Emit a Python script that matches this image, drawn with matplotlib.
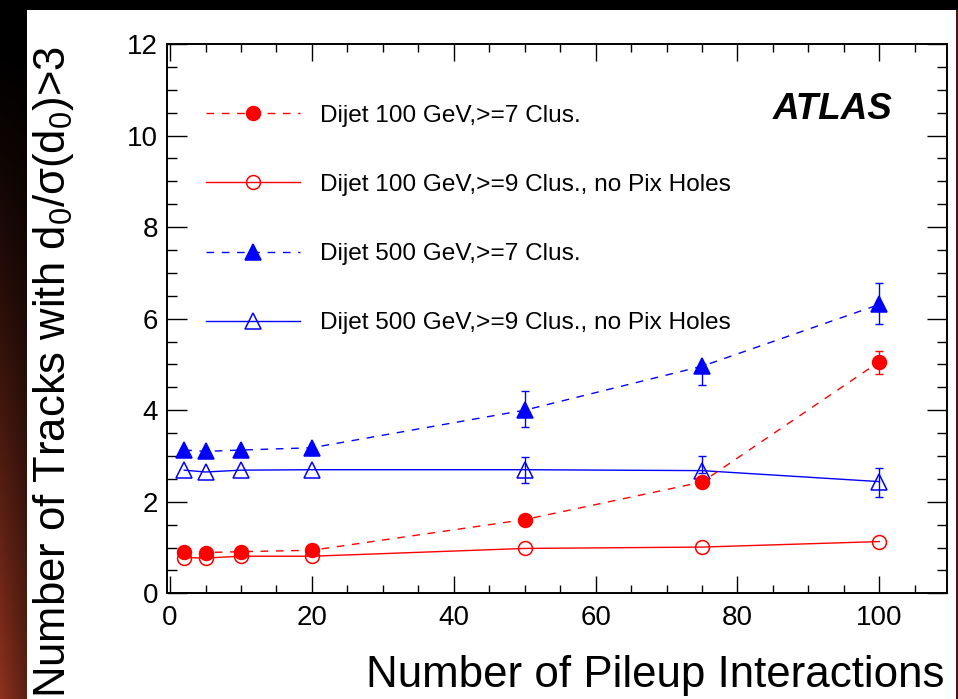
import numpy as np
import matplotlib
matplotlib.use("Agg")
import matplotlib.pyplot as plt
from matplotlib.patches import Rectangle
from matplotlib.ticker import MultipleLocator

plt.rcParams['font.family'] = ['Liberation Sans', 'DejaVu Sans']
plt.rcParams['mathtext.fontset'] = 'custom'
plt.rcParams['mathtext.rm'] = 'Liberation Sans'
plt.rcParams['mathtext.it'] = 'Liberation Sans:italic'
plt.rcParams['mathtext.bf'] = 'Liberation Sans:bold'

# ---------------- data ----------------
pileup = np.array([2, 5, 10, 20, 50, 75, 100])

d100_7 = np.array([0.90, 0.89, 0.91, 0.94, 1.61, 2.43, 5.06])
d100_7_lo = np.array([0, 0, 0, 0, 0, 0.12, 0.27])
d100_7_hi = np.array([0, 0, 0, 0, 0, 0.12, 0.24])

d100_9 = np.array([0.78, 0.77, 0.81, 0.81, 0.98, 1.01, 1.13])
d100_9_lo = np.array([0, 0, 0, 0, 0, 0, 0])
d100_9_hi = np.array([0, 0, 0, 0, 0, 0, 0])

d500_7 = np.array([3.13, 3.10, 3.13, 3.18, 4.00, 4.96, 6.31])
d500_7_lo = np.array([0, 0, 0, 0, 0.37, 0.40, 0.42])
d500_7_hi = np.array([0, 0, 0, 0, 0.41, 0.05, 0.47])

d500_9 = np.array([2.69, 2.65, 2.69, 2.70, 2.70, 2.68, 2.44])
d500_9_lo = np.array([0, 0, 0, 0, 0.30, 0.05, 0.33])
d500_9_hi = np.array([0, 0, 0, 0, 0.28, 0.31, 0.29])

labels = ["Dijet 100 GeV,>=7 Clus.",
          "Dijet 100 GeV,>=9 Clus., no Pix Holes",
          "Dijet 500 GeV,>=7 Clus.",
          "Dijet 500 GeV,>=9 Clus., no Pix Holes"]

xlabel = "Number of Pileup Interactions"
ylabel = "Number of Tracks with d$_{0}$/\u03c3(d$_{0}$)>3"

# ---------------- figure & background ----------------
W, H = 958, 699
fig = plt.figure(figsize=(W / 100, H / 100), dpi=100, facecolor='black')

# white panel
fig.patches.append(Rectangle((27 / W, 0), (956 - 27) / W, (H - 10) / H,
                             transform=fig.transFigure, facecolor='white',
                             edgecolor='none', zorder=-10))
# right thin dark-red border
fig.patches.append(Rectangle((956 / W, 0), 2 / W, (H - 10) / H,
                             transform=fig.transFigure, facecolor='#4a1612',
                             edgecolor='none', zorder=-10))

# left gradient strip (decorative)
gax = fig.add_axes([0, 0, 27 / W, 1])
gax.set_axis_off()
gax.set_zorder(-5)
ny, nx = 300, 30
t = np.linspace(0, 1, ny)[:, None]          # 0 top -> 1 bottom
s = np.linspace(0, 1, nx)[None, :]          # 0 left -> 1 right
amp = np.clip((t - 0.05) / 0.95, 0, 1) ** 1.3
base = np.array([142, 50, 30]) / 255.0
img = amp[..., None] * base[None, None, :] * (1 - 0.35 * s)[..., None]
gax.imshow(img, aspect='auto', extent=[0, 1, 0, 1])

# ---------------- main axes ----------------
ax = fig.add_axes([166.5 / W, 1 - 593.3 / H, 780.2 / W, 549.3 / H])
ax.set_zorder(1)
ax.set_facecolor('white')
ax.set_xlim(-0.5, 109.5)
ax.set_ylim(0, 12)

red = '#ff0000'
blue = '#0000ff'

series = [
    (d100_7, d100_7_lo, d100_7_hi, red, 'o', red, (0, (5.5, 5.5)), 10),
    (d100_9, d100_9_lo, d100_9_hi, red, 'o', 'none', '-', 10),
    (d500_7, d500_7_lo, d500_7_hi, blue, '^', blue, (0, (5.5, 5.5)), 11),
    (d500_9, d500_9_lo, d500_9_hi, blue, '^', 'none', '-', 11),
]

handles = []
for i, (y, lo, hi, c, m, mfc, ls, ms) in enumerate(series):
    mask = (lo + hi) > 0
    if mask.any():
        ax.errorbar(pileup[mask], y[mask], yerr=[lo[mask], hi[mask]],
                    fmt='none', ecolor=c, elinewidth=1.0, capsize=3,
                    capthick=1.0, zorder=2)
    h, = ax.plot(pileup, y, color=c, linestyle=ls, linewidth=1.0,
                 marker=m, markersize=ms, markerfacecolor=mfc,
                 markeredgecolor=c, markeredgewidth=1.1,
                 zorder=3 if mfc == 'none' else 4, label=labels[i])
    handles.append(h)

# spines and ticks
for sp in ax.spines.values():
    sp.set_linewidth(1.4)
    sp.set_color('black')

ax.xaxis.set_major_locator(MultipleLocator(20))
ax.xaxis.set_minor_locator(MultipleLocator(5))
ax.yaxis.set_major_locator(MultipleLocator(2))
ax.yaxis.set_minor_locator(MultipleLocator(0.5))
ax.tick_params(which='both', direction='in', top=True, right=True,
               width=1.0, color='black')
ax.tick_params(axis='x', which='major', length=12.5, pad=8.5, labelsize=20)
ax.tick_params(axis='x', which='minor', length=6)
ax.tick_params(axis='y', which='major', length=14.5, pad=6, labelsize=20)
ax.tick_params(axis='y', which='minor', length=7)

# axis titles
fig.text(945 / W, 1 - 687 / H, xlabel, ha='right', va='baseline',
         fontsize=31.6, color='black')
fig.text(65 / W, 1 - 46 / H, ylabel, rotation=90, rotation_mode='anchor',
         ha='right', va='baseline', fontsize=31.4, color='black')

# ATLAS label
ax.text(0.930, 0.880, "ATLAS", transform=ax.transAxes, ha='right',
        va='center', fontsize=26.5, fontweight='bold', fontstyle='italic')

# legend
leg = ax.legend(handles=handles, loc='upper left',
                bbox_to_anchor=(0.0506, 0.890), frameon=False,
                fontsize=17.6, handlelength=3.85, handletextpad=0.8,
                labelspacing=1.93, numpoints=1, borderpad=0,
                borderaxespad=0)

fig.savefig("out.png", dpi=100, facecolor=fig.get_facecolor())
